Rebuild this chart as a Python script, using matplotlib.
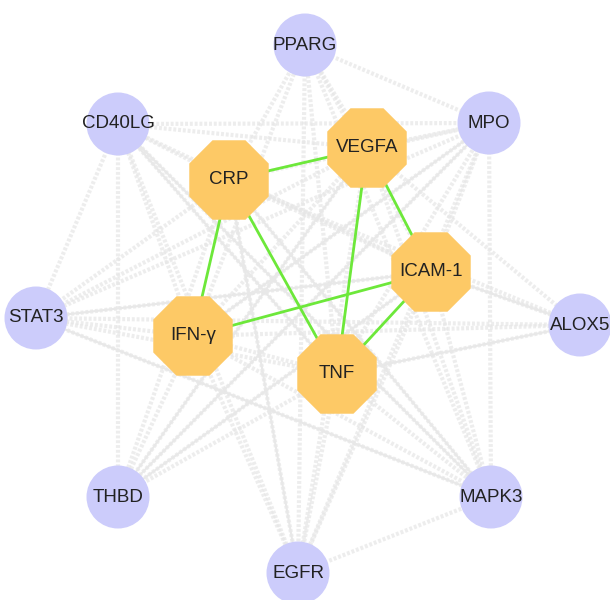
import numpy as np
import matplotlib.pyplot as plt
from matplotlib.patches import Circle, RegularPolygon

# node names and positions (layout, pixel space)
outer = ['PPARG', 'CD40LG', 'MPO', 'STAT3', 'ALOX5', 'THBD', 'MAPK3', 'EGFR']
outer_x = [305, 118, 489, 36, 580, 118, 491, 298]
outer_y = [45, 124, 123, 318, 325, 497, 497, 573]

inner = ['CRP', 'VEGFA', 'ICAM-1', 'IFN-γ', 'TNF']
inner_x = [229, 367, 431, 193, 337]
inner_y = [180, 148, 272, 336, 374]

green_edges = [('CRP', 'VEGFA'), ('CRP', 'IFN-γ'), ('CRP', 'TNF'),
               ('VEGFA', 'TNF'), ('VEGFA', 'ICAM-1'), ('ICAM-1', 'IFN-γ'),
               ('ICAM-1', 'TNF')]

# gray edges: every hub gene to the outer genes, plus some outer pairs
gray_extra = [('CRP', 'ICAM-1'), ('VEGFA', 'IFN-γ'), ('IFN-γ', 'TNF'),
              ('PPARG', 'MPO'), ('CD40LG', 'MPO'), ('CD40LG', 'STAT3'),
              ('CD40LG', 'THBD'), ('MPO', 'MAPK3'), ('MPO', 'STAT3'),
              ('STAT3', 'MAPK3'), ('EGFR', 'MAPK3'), ('PPARG', 'EGFR'),
              ('PPARG', 'MAPK3'), ('CD40LG', 'EGFR'), ('MPO', 'EGFR'),
              ('STAT3', 'ALOX5'), ('CD40LG', 'MAPK3'), ('MPO', 'THBD')]
solid_too = [('CD40LG', 'MAPK3'), ('MPO', 'THBD'), ('STAT3', 'MAPK3'),
             ('THBD', 'ICAM-1'), ('ALOX5', 'TNF'), ('CD40LG', 'TNF'),
             ('MPO', 'IFN-γ'), ('STAT3', 'ICAM-1'), ('EGFR', 'CRP'),
             ('MAPK3', 'CRP'), ('ALOX5', 'ICAM-1'), ('THBD', 'VEGFA')]

pos = {n: (x, y) for n, x, y in zip(outer + inner, outer_x + inner_x, outer_y + inner_y)}
gray_edges = [(a, b) for a in inner for b in outer] + gray_extra

fig = plt.figure(figsize=(6.1, 6.0), dpi=100)
ax = fig.add_axes([0, 0, 1, 1])
ax.set_xlim(0, 610)
ax.set_ylim(600, 0)
ax.set_aspect('equal')
ax.axis('off')

for a, b in gray_edges:
    (x1, y1), (x2, y2) = pos[a], pos[b]
    ax.plot([x1, x2], [y1, y2], color='#e6e6e6', lw=3.0,
            ls=(0, (0.7, 0.45)), alpha=0.7, zorder=1, solid_capstyle='butt')
for a, b in solid_too:
    (x1, y1), (x2, y2) = pos[a], pos[b]
    ax.plot([x1, x2], [y1, y2], color='#e8e8e8', lw=1.5, zorder=1)

for a, b in green_edges:
    (x1, y1), (x2, y2) = pos[a], pos[b]
    ax.plot([x1, x2], [y1, y2], color='#6de83a', lw=2, zorder=2)

for n, x, y in zip(outer, outer_x, outer_y):
    ax.add_patch(Circle((x, y), 31.5, facecolor='#ccccfb', edgecolor='none', zorder=3))
    ax.text(x, y, n, ha='center', va='center', fontsize=13.5,
            family='Liberation Sans', color='#222222', zorder=4)

for n, x, y in zip(inner, inner_x, inner_y):
    ax.add_patch(RegularPolygon((x, y), 8, radius=43, orientation=np.pi / 8,
                                facecolor='#fdc966', edgecolor='none', zorder=3))
    ax.text(x, y, n, ha='center', va='center', fontsize=13.5,
            family='Liberation Sans', color='#222222', zorder=4)

fig.savefig('out.png', dpi=100, facecolor='white')
